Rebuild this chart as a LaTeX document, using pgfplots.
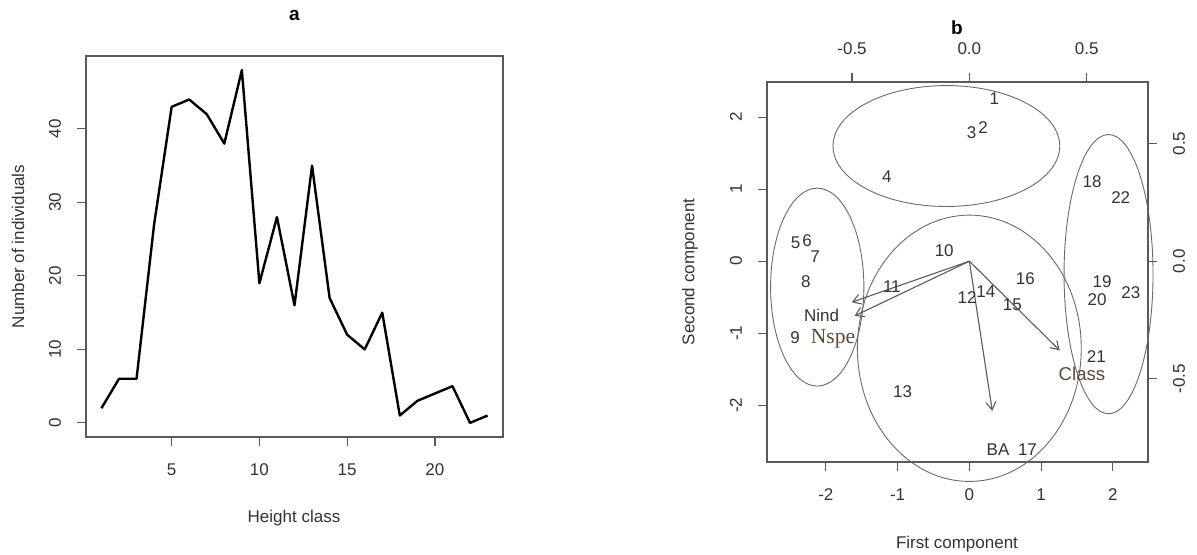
\documentclass[border=0pt]{standalone}
\usepackage{fontspec}
\setmainfont{Liberation Sans}
\newfontfamily\seriffont{Liberation Serif}
\usepackage{pgfplots}
\pgfplotsset{compat=1.18}
\usetikzlibrary{arrows.meta}
\definecolor{axgray}{HTML}{5A5A5A}
\definecolor{txtgray}{HTML}{333333}
\definecolor{elgray}{HTML}{6A6A6A}
\definecolor{nspe}{HTML}{5C4A38}
\begin{document}
\fontsize{8.5}{10}\selectfont
\begin{tikzpicture}
\path[use as bounding box] (0pt,0pt) rectangle (598.5pt,277.5pt);
\pgfplotsset{rstyle/.style={scale only axis,
  axis line style={axgray, line width=0.6pt},
  tick style={axgray, line width=0.6pt},
  tick align=outside, major tick length=4.5pt,
  ticklabel style={txtgray, font=\fontsize{8.5}{10}\selectfont},
  /pgf/number format/assume math mode=true}}
% ---------------- panel a ----------------
\begin{axis}[rstyle, at={(43pt,59pt)}, anchor=south west,
  width=208.5pt, height=190.5pt,
  xmin=0.12, xmax=23.88, ymin=-1.92, ymax=49.92,
  xtick={5,10,15,20}, ytick={0,10,20,30,40},
  xtick pos=bottom, ytick pos=left,
  xticklabel shift=6pt, yticklabel shift=5pt,
  yticklabel style={rotate=90, anchor=south}]
\addplot[black, line width=1.2pt, line join=round, mark=none] coordinates {
(1,2) (2,6) (3,6) (4,27) (5,43) (6,44) (7,42) (8,38) (9,48) (10,19)
(11,28) (12,16) (13,35) (14,17) (15,12) (16,10) (17,15) (18,1) (19,3)
(20,4) (21,5) (22,0) (23,1)};
\end{axis}
\node[font=\fontsize{9.5}{11}\selectfont\bfseries, text=black] at (147.25pt,270pt) {a};
\node[text=txtgray] at (147pt,18.5pt) {Height class};
\node[text=txtgray, rotate=90] at (9pt,154.25pt) {Number of individuals};
% ---------------- panel b ----------------
\begin{axis}[rstyle, at={(383.5pt,46.5pt)}, anchor=south west,
  width=190.5pt, height=190pt,
  xmin=-2.82, xmax=2.49, ymin=-2.79, ymax=2.49,
  xtick={-2,-1,0,1,2}, xticklabels={-2,-1,0,1,2},
  ytick={-2,-1,0,1,2}, yticklabels={-2,-1,0,1,2},
  xtick pos=bottom, ytick pos=left,
  xticklabel shift=6pt, yticklabel shift=5pt,
  yticklabel style={rotate=90, anchor=south},
  clip=false]
\draw[elgray, line width=0.45pt] (axis cs:-0.32,1.60) ellipse [x radius=1.58, y radius=0.84];
\draw[elgray, line width=0.45pt] (axis cs:-2.12,-0.36) ellipse [x radius=0.65, y radius=1.375];
\draw[elgray, line width=0.45pt] (axis cs:1.94,-0.18) ellipse [x radius=0.62, y radius=1.94];
\draw[elgray, line width=0.45pt] (axis cs:0,-1.21) ellipse [x radius=1.56, y radius=1.85];
\addplot[axgray, line width=0.55pt, -{Straight Barb[length=4pt,width=5pt]}] coordinates {(0,0) (-1.64,-0.57)};
\addplot[axgray, line width=0.55pt, -{Straight Barb[length=4pt,width=5pt]}] coordinates {(0,0) (-1.60,-0.76)};
\addplot[axgray, line width=0.55pt, -{Straight Barb[length=4pt,width=5pt]}] coordinates {(0,0) (1.26,-1.24)};
\addplot[axgray, line width=0.55pt, -{Straight Barb[length=4pt,width=5pt]}] coordinates {(0,0) (0.32,-2.08)};
\addplot[draw=none, mark=none, nodes near coords, point meta=explicit symbolic,
  nodes near coords align=center,
  every node near coord/.append style={text=txtgray, inner sep=0pt, font=\fontsize{8.5}{10}\selectfont}]
  table[meta=lab] {
x y lab
0.35 2.26 1
0.19 1.86 2
0.03 1.78 3
-1.15 1.17 4
-2.42 0.26 5
-2.26 0.28 6
-2.15 0.07 7
-2.28 -0.28 8
-2.43 -1.06 9
-0.35 0.14 10
-1.08 -0.35 11
-0.03 -0.51 12
-0.93 -1.81 13
0.23 -0.42 14
0.60 -0.61 15
0.78 -0.24 16
0.81 -2.62 17
1.71 1.10 18
1.85 -0.29 19
1.78 -0.53 20
1.77 -1.32 21
2.11 0.89 22
2.25 -0.44 23
-2.06 -0.76 Nind
0.40 -2.62 BA
};
\addplot[draw=none, mark=none, nodes near coords, point meta=explicit symbolic,
  nodes near coords align=center,
  every node near coord/.append style={text=nspe, inner sep=0pt, font=\fontsize{9.3}{11}\selectfont}]
  table[meta=lab] {
x y lab
1.57 -1.57 Class
};
\addplot[draw=none, mark=none, nodes near coords, point meta=explicit symbolic,
  nodes near coords align=center,
  every node near coord/.append style={text=nspe, inner sep=0pt, font=\fontsize{10.8}{12}\selectfont\seriffont}]
  table[meta=lab] {
x y lab
-1.90 -1.08 Nspe
};
\end{axis}
\begin{axis}[rstyle, at={(383.5pt,46.5pt)}, anchor=south west,
  width=190.5pt, height=190pt,
  xmin=-0.8624, xmax=0.7615, ymin=-0.8532, ymax=0.7615,
  axis line style={draw=none},
  xtick={-0.5,0,0.5}, xticklabels={-0.5,0.0,0.5},
  ytick={-0.5,0,0.5}, yticklabels={-0.5,0.0,0.5},
  xtick pos=top, ytick pos=right,
  xticklabel shift=6pt, yticklabel shift=5pt,
  yticklabel style={rotate=90, anchor=north}]
\end{axis}
\node[font=\fontsize{9.5}{11}\selectfont\bfseries, text=black] at (478.5pt,263.5pt) {b};
\node[text=txtgray] at (478.5pt,5.5pt) {First component};
\node[text=txtgray, rotate=90] at (345pt,141.5pt) {Second component};
\end{tikzpicture}
\end{document}
